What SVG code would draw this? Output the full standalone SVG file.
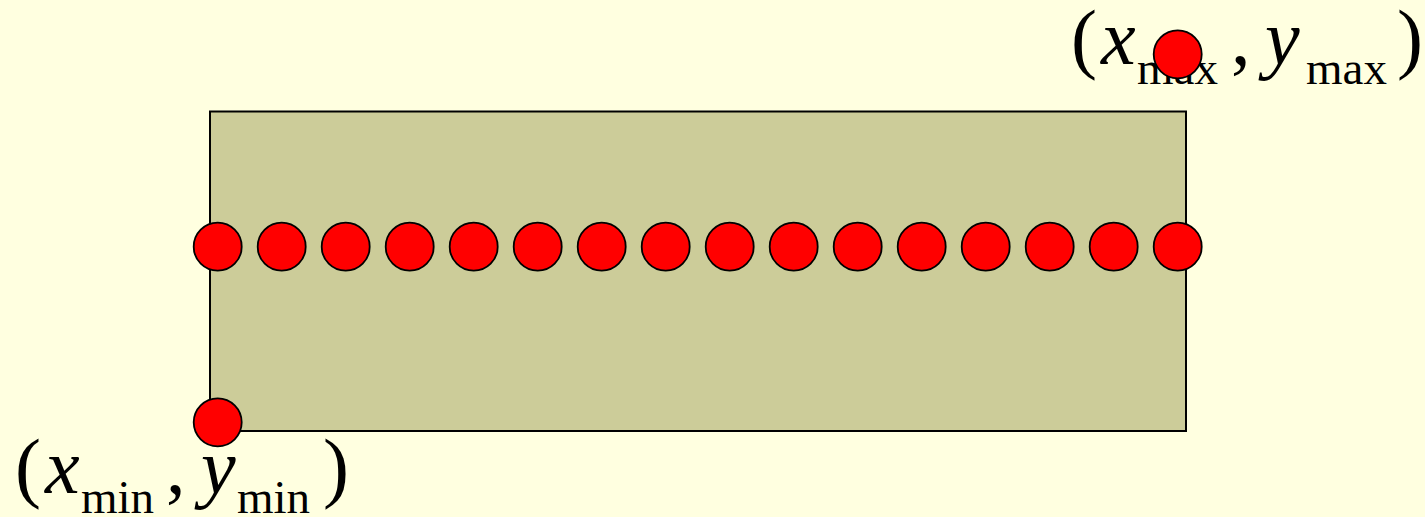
<svg xmlns="http://www.w3.org/2000/svg" width="1425" height="517" viewBox="0 0 1425 517">
<style>
.t{font-family:"Liberation Serif","Times New Roman",serif;fill:#000}
.m{font-size:78px}
.i{font-style:italic}
.s{font-size:47px}
.pt{fill:#FF0000;stroke:#000;stroke-width:1.8}
</style>
<rect x="0" y="0" width="1425" height="517" fill="#FFFFE0"/>
<g id="region">
<rect x="210" y="111.5" width="976" height="319.5" fill="#CCCC99" stroke="#000" stroke-width="2"/>
</g>
<g id="label-max">
<text class="t m" x="1071" y="64">(</text>
<text class="t m i" x="1101" y="64">x</text>
<text class="t s" x="1137" y="84">max</text>
<text class="t m" x="1231" y="64">,</text>
<text class="t m i" x="1265" y="64">y</text>
<text class="t s" x="1306" y="84">max</text>
<text class="t m" x="1397" y="64">)</text>
</g>
<g id="label-min">
<text class="t m" x="15" y="493">(</text>
<text class="t m i" x="45" y="493">x</text>
<text class="t s" x="81" y="513">min</text>
<text class="t m" x="166" y="493">,</text>
<text class="t m i" x="201" y="493">y</text>
<text class="t s" x="237" y="513">min</text>
<text class="t m" x="323" y="493">)</text>
</g>
<g id="points">
<circle class="pt" cx="217.7" cy="246.7" r="24"/>
<circle class="pt" cx="281.7" cy="246.7" r="24"/>
<circle class="pt" cx="345.7" cy="246.7" r="24"/>
<circle class="pt" cx="409.7" cy="246.7" r="24"/>
<circle class="pt" cx="473.7" cy="246.7" r="24"/>
<circle class="pt" cx="537.7" cy="246.7" r="24"/>
<circle class="pt" cx="601.7" cy="246.7" r="24"/>
<circle class="pt" cx="665.7" cy="246.7" r="24"/>
<circle class="pt" cx="729.7" cy="246.7" r="24"/>
<circle class="pt" cx="793.7" cy="246.7" r="24"/>
<circle class="pt" cx="857.7" cy="246.7" r="24"/>
<circle class="pt" cx="921.7" cy="246.7" r="24"/>
<circle class="pt" cx="985.7" cy="246.7" r="24"/>
<circle class="pt" cx="1049.7" cy="246.7" r="24"/>
<circle class="pt" cx="1113.7" cy="246.7" r="24"/>
<circle class="pt" cx="1177.7" cy="246.7" r="24"/>
</g>
<g id="corner-min"><circle class="pt" cx="217.7" cy="422.3" r="24"/></g>
<g id="corner-max"><circle class="pt" cx="1177.7" cy="54.3" r="24"/></g>
</svg>
